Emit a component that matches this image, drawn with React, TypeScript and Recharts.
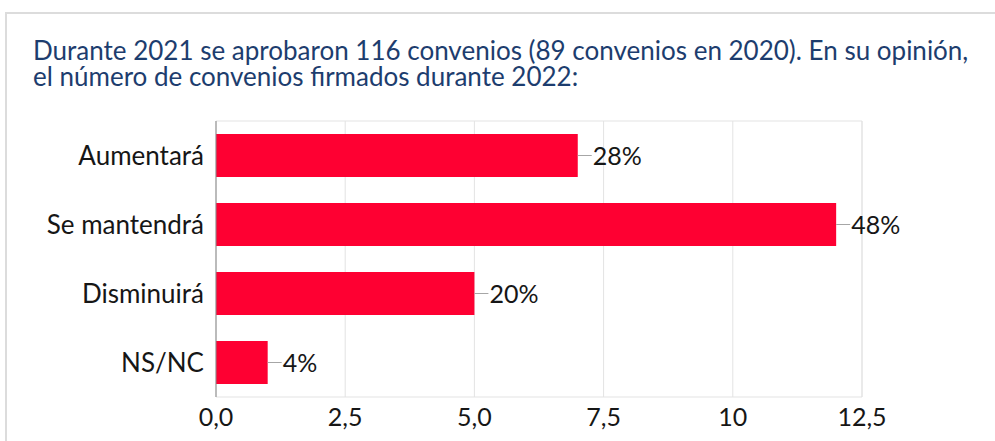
import React from 'react';
import {
  BarChart,
  Bar,
  XAxis,
  YAxis,
  CartesianGrid,
  LabelList,
  ReferenceArea,
} from 'recharts';

const categories = ['Aumentará', 'Se mantendrá', 'Disminuirá', 'NS/NC'];
const counts = [7, 12, 5, 1];
const percentLabels = ['28%', '48%', '20%', '4%'];
const xTicks = [0, 2.5, 5, 7.5, 10, 12.5];
const xTickLabels = ['0,0', '2,5', '5,0', '7,5', '10', '12,5'];
const titleLines = [
  'Durante 2021 se aprobaron 116 convenios (89 convenios en 2020). En su opinión,',
  'el número de convenios firmados durante 2022:',
];

const data = categories.map((name, i) => ({
  name,
  value: counts[i],
  label: percentLabels[i],
}));

const FONT = 'Lato, "Noto Sans", sans-serif';
const TEXT = '#161616';

function LeaderLabel(props: any) {
  const { x, y, width, height, value } = props;
  const endX = x + width;
  const midY = y + height / 2;
  return (
    <g>
      <line x1={endX} y1={midY} x2={endX + 14} y2={midY} stroke="#a6a6a6" strokeWidth={1} />
      <text
        x={endX + 15}
        y={midY}
        dy="0.36em"
        fontSize={25}
        fontFamily={FONT}
        fill={TEXT}
      >
        {value}
      </text>
    </g>
  );
}

export default function App() {
  return (
    <div
      style={{
        position: 'absolute',
        left: 0,
        top: 0,
        width: 995,
        height: 441,
        background: '#fff',
        overflow: 'hidden',
        fontFamily: FONT,
      }}
    >
      <div
        style={{
          position: 'absolute',
          left: 5,
          top: 12,
          width: 1200,
          height: 800,
          borderTop: '2px solid #dcdcdc',
          borderLeft: '2px solid #dcdcdc',
        }}
      />
      {titleLines.map((line, i) => (
        <div
          key={i}
          style={{
            position: 'absolute',
            left: 33,
            top: 37 + i * 26,
            fontSize: 26,
            lineHeight: '26px',
            color: '#1d3d6e',
            whiteSpace: 'nowrap',
          }}
        >
          {line}
        </div>
      ))}
      <div style={{ position: 'absolute', left: 0, top: 0 }}>
        <BarChart
          width={995}
          height={441}
          data={data}
          layout="vertical"
          margin={{ top: 121, right: 133, bottom: 0, left: 0 }}
          barSize={43}
        >
          <CartesianGrid horizontal={false} stroke="#e3e3e3" />
          <ReferenceArea
            x1={0}
            x2={12.5}
            fill="none"
            stroke="#e3e3e3"
            strokeWidth={1}
            ifOverflow="visible"
          />
          <XAxis
            type="number"
            domain={[0, 12.5]}
            ticks={xTicks}
            tickFormatter={(v: number) => xTickLabels[xTicks.indexOf(v)] ?? String(v)}
            axisLine={false}
            tickLine={false}
            tickSize={0}
            tickMargin={11}
            height={44}
            tick={{ fontSize: 25, fill: TEXT, fontFamily: FONT }}
          />
          <YAxis
            type="category"
            dataKey="name"
            width={216}
            axisLine={{ stroke: '#8c8c8c' }}
            tickLine={false}
            tickSize={0}
            tickMargin={12}
            tick={{ fontSize: 26, fill: TEXT, fontFamily: FONT }}
          />
          <Bar dataKey="value" fill="#fe0032" isAnimationActive={false}>
            <LabelList dataKey="label" content={<LeaderLabel />} />
          </Bar>
        </BarChart>
      </div>
    </div>
  );
}
